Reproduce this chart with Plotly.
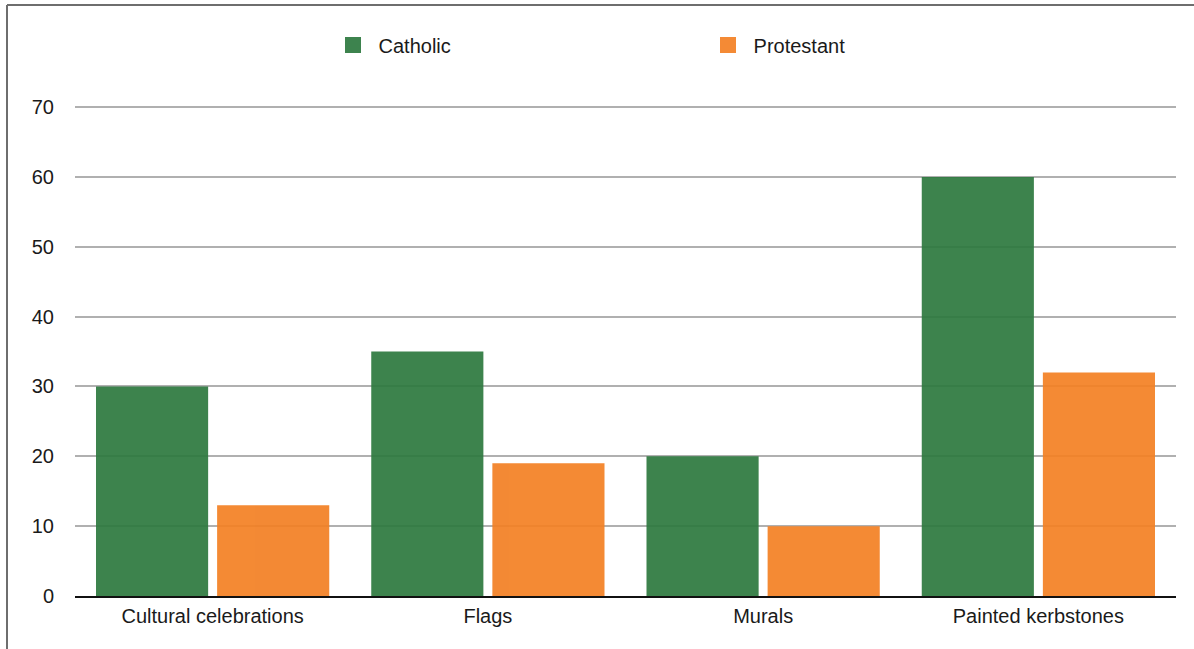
import plotly.graph_objects as go

categories = ["Cultural celebrations", "Flags", "Murals", "Painted kerbstones"]
catholic = [30, 35, 20, 60]
protestant = [13, 19, 10, 32]
y_ticks = [0, 10, 20, 30, 40, 50, 60, 70]

# bars are slightly see-through so the grid shows faintly, like the original
GREEN = "#2c783e"
ORANGE = "#f38023"
GREEN_KEY = "#3d834e"
ORANGE_KEY = "#f48a35"

W, H = 1194, 649
L, R, T, B = 75, 18, 106, 53
pw, ph = W - L - R, H - T - B


def px_x(x):
    return (x - L) / pw


def px_y(y):
    return (H - B - y) / ph


fig = go.Figure()

for name, vals, color, key in [("Catholic", catholic, GREEN, GREEN_KEY),
                               ("Protestant", protestant, ORANGE, ORANGE_KEY)]:
    fig.add_trace(
        go.Bar(
            x=categories,
            y=vals,
            name=name,
            marker=dict(color=color, line=dict(width=0)),
            opacity=0.92,
            showlegend=False,
            legendgroup=name,
        )
    )
    # legend entry with bigger square swatch
    fig.add_trace(
        go.Scatter(
            x=[None],
            y=[None],
            mode="markers",
            name="\u00a0" + name,
            marker=dict(symbol="square", size=16, color=key),
            legendgroup=name,
        )
    )

# thin frame on the left and top
fig.add_shape(type="line", xref="paper", yref="paper", x0=px_x(7), x1=px_x(7), y0=px_y(H + 5), y1=px_y(5),
              line=dict(color="#6e6e6e", width=2))
fig.add_shape(type="line", xref="paper", yref="paper", x0=px_x(7), x1=px_x(W + 5), y0=px_y(5), y1=px_y(5),
              line=dict(color="#6e6e6e", width=2))

fig.update_layout(
    width=W,
    height=H,
    margin=dict(l=L, r=R, t=T, b=B),
    plot_bgcolor="white",
    paper_bgcolor="white",
    font=dict(family="Liberation Sans, Arial, sans-serif", size=20, color="#1a1a1a"),
    barmode="group",
    bargap=0.12,
    bargroupgap=0.074,
    showlegend=True,
    legend=dict(
        orientation="h",
        xref="container",
        yref="container",
        x=333 / W,
        xanchor="left",
        y=1 - 45 / H,
        yanchor="middle",
        entrywidth=330,
        entrywidthmode="pixels",
        font=dict(size=20),
        bgcolor="rgba(0,0,0,0)",
    ),
    xaxis=dict(
        showline=True,
        linecolor="#111111",
        linewidth=2,
        showgrid=False,
        ticks="outside",
        ticklen=1,
        tickcolor="rgba(0,0,0,0)",
        tickfont=dict(size=20),
    ),
    yaxis=dict(
        range=[0, 70.15],
        tickvals=y_ticks,
        showgrid=True,
        gridcolor="#b0b0b0",
        gridwidth=1.5,
        zeroline=False,
        showline=False,
        ticks="outside",
        ticklen=16,
        tickcolor="rgba(0,0,0,0)",
        tickfont=dict(size=20),
    ),
)

# the page body has a default 8px margin; drop it so the figure sits flush
fig.write_html(
    "out.html",
    config={"displayModeBar": False},
    post_script="document.body.style.margin='0';",
)
